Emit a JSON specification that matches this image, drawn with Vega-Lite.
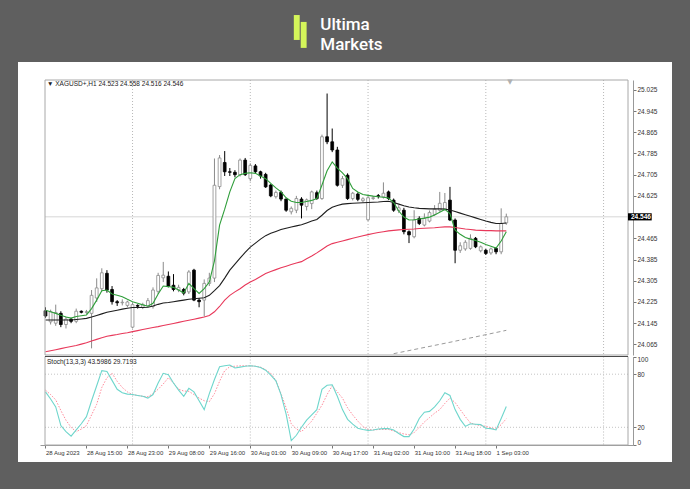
{
"$schema":"https://vega.github.io/schema/vega-lite/v6.json",
"width":654,"height":400,
"autosize":{"type":"none"},
"padding":{"left":18,"top":62,"right":18,"bottom":27},
"background":"#5f5f5f",
"config":{"view":{"stroke":null,"fill":"#ffffff"},"axis":{"title":null,"grid":false,"labelOverlap":false}},
"datasets":{
"one":[{"a":1}],
"seps":[{"i":17},{"i":40},{"i":63},{"i":86},{"i":109}],
"ma200":[{"i":68,"m":24.030},{"i":79,"m":24.073},{"i":90,"m":24.118}],
"candles":[
{"i":0,"o":24.192,"h":24.205,"l":24.165,"c":24.172,"g":24.194,"b":24.157,"r":24.037,"k":60,"d":62},
{"i":1,"o":24.150,"h":24.196,"l":24.140,"c":24.188,"g":24.188,"b":24.157,"r":24.041,"k":52,"d":57},
{"i":2,"o":24.145,"h":24.215,"l":24.135,"c":24.185,"g":24.182,"b":24.157,"r":24.045,"k":43,"d":51},
{"i":3,"o":24.182,"h":24.190,"l":24.130,"c":24.140,"g":24.175,"b":24.157,"r":24.049,"k":22,"d":39},
{"i":4,"o":24.140,"h":24.170,"l":24.125,"c":24.160,"g":24.168,"b":24.157,"r":24.053,"k":15,"d":28},
{"i":5,"o":24.160,"h":24.165,"l":24.145,"c":24.152,"g":24.164,"b":24.157,"r":24.057,"k":10,"d":20},
{"i":6,"o":24.152,"h":24.200,"l":24.145,"c":24.190,"g":24.170,"b":24.159,"r":24.061,"k":17,"d":15},
{"i":7,"o":24.190,"h":24.193,"l":24.182,"c":24.186,"g":24.173,"b":24.161,"r":24.066,"k":24,"d":18},
{"i":8,"o":24.186,"h":24.195,"l":24.180,"c":24.188,"g":24.176,"b":24.163,"r":24.071,"k":32,"d":22},
{"i":9,"o":24.182,"h":24.270,"l":24.050,"c":24.250,"g":24.200,"b":24.168,"r":24.078,"k":50,"d":34},
{"i":10,"o":24.240,"h":24.314,"l":24.225,"c":24.278,"g":24.232,"b":24.174,"r":24.084,"k":67,"d":46},
{"i":11,"o":24.275,"h":24.352,"l":24.265,"c":24.335,"g":24.267,"b":24.180,"r":24.090,"k":84,"d":65},
{"i":12,"o":24.333,"h":24.345,"l":24.260,"c":24.270,"g":24.270,"b":24.186,"r":24.096,"k":83,"d":76},
{"i":13,"o":24.272,"h":24.285,"l":24.215,"c":24.226,"g":24.255,"b":24.190,"r":24.099,"k":73,"d":81},
{"i":14,"o":24.226,"h":24.232,"l":24.210,"c":24.222,"g":24.250,"b":24.194,"r":24.102,"k":63,"d":72},
{"i":15,"o":24.222,"h":24.235,"l":24.212,"c":24.224,"g":24.245,"b":24.198,"r":24.106,"k":59,"d":65},
{"i":16,"o":24.212,"h":24.230,"l":24.205,"c":24.225,"g":24.235,"b":24.201,"r":24.109,"k":57.5,"d":60},
{"i":17,"o":24.130,"h":24.222,"l":24.125,"c":24.215,"g":24.226,"b":24.204,"r":24.113,"k":57,"d":57},
{"i":18,"o":24.212,"h":24.216,"l":24.200,"c":24.209,"g":24.220,"b":24.204,"r":24.117,"k":56,"d":56},
{"i":19,"o":24.205,"h":24.222,"l":24.198,"c":24.215,"g":24.214,"b":24.204,"r":24.121,"k":55,"d":55},
{"i":20,"o":24.210,"h":24.240,"l":24.205,"c":24.230,"g":24.209,"b":24.205,"r":24.125,"k":53,"d":54.6},
{"i":21,"o":24.208,"h":24.280,"l":24.200,"c":24.270,"g":24.220,"b":24.210,"r":24.129,"k":57,"d":58},
{"i":22,"o":24.265,"h":24.335,"l":24.255,"c":24.325,"g":24.255,"b":24.216,"r":24.132,"k":70,"d":63},
{"i":23,"o":24.316,"h":24.376,"l":24.300,"c":24.326,"g":24.285,"b":24.221,"r":24.136,"k":81,"d":69},
{"i":24,"o":24.322,"h":24.340,"l":24.280,"c":24.285,"g":24.283,"b":24.223,"r":24.140,"k":79.5,"d":76},
{"i":25,"o":24.288,"h":24.330,"l":24.265,"c":24.272,"g":24.280,"b":24.226,"r":24.144,"k":70,"d":70},
{"i":26,"o":24.270,"h":24.290,"l":24.262,"c":24.280,"g":24.270,"b":24.229,"r":24.148,"k":62,"d":63},
{"i":27,"o":24.272,"h":24.278,"l":24.250,"c":24.258,"g":24.259,"b":24.232,"r":24.152,"k":55,"d":61},
{"i":28,"o":24.263,"h":24.345,"l":24.255,"c":24.338,"g":24.295,"b":24.235,"r":24.156,"k":64,"d":60.6},
{"i":29,"o":24.345,"h":24.350,"l":24.228,"c":24.232,"g":24.275,"b":24.237,"r":24.160,"k":60,"d":57},
{"i":30,"o":24.232,"h":24.240,"l":24.205,"c":24.226,"g":24.257,"b":24.239,"r":24.164,"k":50,"d":53},
{"i":31,"o":24.232,"h":24.310,"l":24.170,"c":24.295,"g":24.275,"b":24.241,"r":24.168,"k":40,"d":50},
{"i":32,"o":24.295,"h":24.335,"l":24.285,"c":24.315,"g":24.300,"b":24.250,"r":24.174,"k":58,"d":49},
{"i":33,"o":24.315,"h":24.766,"l":24.300,"c":24.665,"g":24.380,"b":24.268,"r":24.188,"k":74,"d":58},
{"i":34,"o":24.660,"h":24.779,"l":24.650,"c":24.768,"g":24.515,"b":24.287,"r":24.208,"k":88.5,"d":72},
{"i":35,"o":24.751,"h":24.794,"l":24.700,"c":24.716,"g":24.575,"b":24.315,"r":24.232,"k":89.5,"d":84},
{"i":36,"o":24.716,"h":24.730,"l":24.700,"c":24.714,"g":24.640,"b":24.345,"r":24.250,"k":90.4,"d":88.5},
{"i":37,"o":24.714,"h":24.722,"l":24.695,"c":24.705,"g":24.690,"b":24.368,"r":24.263,"k":87,"d":89},
{"i":38,"o":24.704,"h":24.766,"l":24.698,"c":24.760,"g":24.705,"b":24.390,"r":24.275,"k":88,"d":89.5},
{"i":39,"o":24.760,"h":24.768,"l":24.700,"c":24.705,"g":24.710,"b":24.412,"r":24.289,"k":89,"d":89.5},
{"i":40,"o":24.690,"h":24.748,"l":24.680,"c":24.740,"g":24.712,"b":24.432,"r":24.300,"k":89.5,"d":89.5},
{"i":41,"o":24.738,"h":24.745,"l":24.710,"c":24.716,"g":24.710,"b":24.447,"r":24.310,"k":89,"d":89},
{"i":42,"o":24.716,"h":24.720,"l":24.690,"c":24.700,"g":24.700,"b":24.462,"r":24.321,"k":87.5,"d":88},
{"i":43,"o":24.706,"h":24.712,"l":24.655,"c":24.659,"g":24.690,"b":24.475,"r":24.332,"k":84.5,"d":85},
{"i":44,"o":24.666,"h":24.670,"l":24.620,"c":24.625,"g":24.672,"b":24.484,"r":24.340,"k":79,"d":81},
{"i":45,"o":24.622,"h":24.645,"l":24.615,"c":24.638,"g":24.655,"b":24.491,"r":24.347,"k":72.5,"d":73},
{"i":46,"o":24.638,"h":24.645,"l":24.605,"c":24.613,"g":24.640,"b":24.498,"r":24.354,"k":57,"d":58},
{"i":47,"o":24.613,"h":24.615,"l":24.565,"c":24.571,"g":24.618,"b":24.503,"r":24.360,"k":35,"d":42},
{"i":48,"o":24.565,"h":24.585,"l":24.555,"c":24.578,"g":24.605,"b":24.508,"r":24.366,"k":5,"d":24},
{"i":49,"o":24.571,"h":24.625,"l":24.560,"c":24.615,"g":24.600,"b":24.512,"r":24.372,"k":11,"d":18},
{"i":50,"o":24.613,"h":24.620,"l":24.540,"c":24.590,"g":24.600,"b":24.516,"r":24.377,"k":20,"d":15},
{"i":51,"o":24.585,"h":24.615,"l":24.570,"c":24.610,"g":24.604,"b":24.523,"r":24.388,"k":28,"d":21},
{"i":52,"o":24.596,"h":24.645,"l":24.575,"c":24.640,"g":24.608,"b":24.530,"r":24.398,"k":34,"d":27},
{"i":53,"o":24.637,"h":24.645,"l":24.610,"c":24.615,"g":24.615,"b":24.536,"r":24.410,"k":40,"d":36},
{"i":54,"o":24.615,"h":24.856,"l":24.610,"c":24.848,"g":24.666,"b":24.552,"r":24.423,"k":63,"d":45},
{"i":55,"o":24.848,"h":25.011,"l":24.820,"c":24.829,"g":24.720,"b":24.570,"r":24.436,"k":67.5,"d":57},
{"i":56,"o":24.829,"h":24.879,"l":24.790,"c":24.798,"g":24.753,"b":24.582,"r":24.445,"k":68,"d":67},
{"i":57,"o":24.798,"h":24.810,"l":24.660,"c":24.665,"g":24.730,"b":24.589,"r":24.450,"k":55,"d":60},
{"i":58,"o":24.665,"h":24.700,"l":24.655,"c":24.690,"g":24.712,"b":24.594,"r":24.455,"k":40,"d":53},
{"i":59,"o":24.703,"h":24.710,"l":24.610,"c":24.615,"g":24.690,"b":24.596,"r":24.460,"k":29,"d":42},
{"i":60,"o":24.615,"h":24.640,"l":24.608,"c":24.635,"g":24.653,"b":24.597,"r":24.465,"k":23.5,"d":34},
{"i":61,"o":24.632,"h":24.638,"l":24.605,"c":24.612,"g":24.640,"b":24.598,"r":24.470,"k":19,"d":27},
{"i":62,"o":24.607,"h":24.620,"l":24.600,"c":24.614,"g":24.630,"b":24.599,"r":24.475,"k":17.5,"d":21},
{"i":63,"o":24.535,"h":24.625,"l":24.530,"c":24.618,"g":24.627,"b":24.600,"r":24.479,"k":16.5,"d":17.5},
{"i":64,"o":24.615,"h":24.625,"l":24.610,"c":24.618,"g":24.624,"b":24.601,"r":24.483,"k":17,"d":17},
{"i":65,"o":24.626,"h":24.632,"l":24.615,"c":24.623,"g":24.622,"b":24.602,"r":24.487,"k":18,"d":17.5},
{"i":66,"o":24.621,"h":24.676,"l":24.615,"c":24.635,"g":24.620,"b":24.604,"r":24.490,"k":18.5,"d":17.5},
{"i":67,"o":24.640,"h":24.645,"l":24.610,"c":24.615,"g":24.617,"b":24.605,"r":24.493,"k":18.5,"d":17.5},
{"i":68,"o":24.609,"h":24.615,"l":24.565,"c":24.571,"g":24.600,"b":24.600,"r":24.495,"k":17,"d":16},
{"i":69,"o":24.570,"h":24.590,"l":24.560,"c":24.580,"g":24.568,"b":24.594,"r":24.497,"k":13,"d":14},
{"i":70,"o":24.571,"h":24.580,"l":24.480,"c":24.490,"g":24.545,"b":24.588,"r":24.498,"k":9.5,"d":12.5},
{"i":71,"o":24.490,"h":24.495,"l":24.447,"c":24.478,"g":24.534,"b":24.583,"r":24.499,"k":9.5,"d":11.5},
{"i":72,"o":24.471,"h":24.571,"l":24.465,"c":24.534,"g":24.535,"b":24.580,"r":24.500,"k":18,"d":14},
{"i":73,"o":24.540,"h":24.548,"l":24.515,"c":24.521,"g":24.538,"b":24.578,"r":24.502,"k":30,"d":20},
{"i":74,"o":24.515,"h":24.559,"l":24.510,"c":24.540,"g":24.541,"b":24.577,"r":24.503,"k":37,"d":26},
{"i":75,"o":24.530,"h":24.570,"l":24.525,"c":24.562,"g":24.545,"b":24.576,"r":24.504,"k":38,"d":31},
{"i":76,"o":24.555,"h":24.590,"l":24.550,"c":24.575,"g":24.553,"b":24.576,"r":24.505,"k":43,"d":36},
{"i":77,"o":24.571,"h":24.640,"l":24.565,"c":24.597,"g":24.563,"b":24.576,"r":24.507,"k":50,"d":40},
{"i":78,"o":24.575,"h":24.636,"l":24.570,"c":24.600,"g":24.574,"b":24.575,"r":24.508,"k":59,"d":47},
{"i":79,"o":24.609,"h":24.659,"l":24.530,"c":24.534,"g":24.558,"b":24.572,"r":24.508,"k":56,"d":53},
{"i":80,"o":24.534,"h":24.540,"l":24.371,"c":24.420,"g":24.496,"b":24.566,"r":24.506,"k":40,"d":48},
{"i":81,"o":24.420,"h":24.450,"l":24.410,"c":24.437,"g":24.480,"b":24.560,"r":24.503,"k":29,"d":40},
{"i":82,"o":24.425,"h":24.458,"l":24.418,"c":24.450,"g":24.468,"b":24.554,"r":24.500,"k":21,"d":32},
{"i":83,"o":24.427,"h":24.480,"l":24.422,"c":24.465,"g":24.462,"b":24.548,"r":24.498,"k":24,"d":25},
{"i":84,"o":24.465,"h":24.470,"l":24.428,"c":24.433,"g":24.457,"b":24.542,"r":24.496,"k":23.5,"d":23},
{"i":85,"o":24.418,"h":24.438,"l":24.412,"c":24.433,"g":24.450,"b":24.536,"r":24.495,"k":23,"d":22},
{"i":86,"o":24.420,"h":24.425,"l":24.402,"c":24.408,"g":24.442,"b":24.530,"r":24.494,"k":19,"d":21},
{"i":87,"o":24.410,"h":24.430,"l":24.403,"c":24.425,"g":24.435,"b":24.525,"r":24.494,"k":18.5,"d":19.5},
{"i":88,"o":24.427,"h":24.432,"l":24.405,"c":24.414,"g":24.428,"b":24.521,"r":24.493,"k":17,"d":18},
{"i":89,"o":24.414,"h":24.578,"l":24.405,"c":24.521,"g":24.455,"b":24.521,"r":24.493,"k":30,"d":23},
{"i":90,"o":24.523,"h":24.558,"l":24.516,"c":24.546,"g":24.490,"b":24.523,"r":24.493,"k":43.6,"d":29.7}
]},
"layer":[
{"layer":[
 {"data":{"name":"seps"},"mark":{"type":"rule","color":"#b8b8b8","strokeDash":[1,2],"strokeWidth":1},
  "encoding":{"x":{"field":"i","type":"quantitative","scale":{"domain":[-0.096,113.77],"range":[22,615],"nice":false,"zero":false}},
   "y":{"datum":25.062,"scale":{"domain":[24.025,25.062],"range":[293,18],"nice":false,"zero":false}},
   "y2":{"datum":24.025}}},
 {"data":{"name":"one"},"mark":{"type":"rule","color":"#d6d6d6","strokeWidth":1},
  "encoding":{"x":{"datum":-0.096},"x2":{"datum":113.77},"y":{"datum":24.546}}},
 {"data":{"name":"ma200"},"mark":{"type":"line","color":"#9a9a9a","strokeDash":[4,3],"strokeWidth":1},
  "encoding":{"x":{"field":"i","type":"quantitative"},"y":{"field":"m","type":"quantitative"}}},
 {"data":{"name":"candles"},"mark":{"type":"rule","strokeWidth":1},
  "encoding":{"x":{"field":"i","type":"quantitative"},"y":{"field":"l","type":"quantitative"},"y2":{"field":"h"},
   "color":{"condition":{"test":"datum.c >= datum.o","value":"#8a8a8a"},"value":"#000000"}}},
 {"data":{"name":"candles"},"mark":{"type":"bar","size":2.8,"strokeWidth":0.8},
  "encoding":{"x":{"field":"i","type":"quantitative"},"y":{"field":"o","type":"quantitative"},"y2":{"field":"c"},
   "fill":{"condition":{"test":"datum.c >= datum.o","value":"#ffffff"},"value":"#000000"},
   "stroke":{"condition":{"test":"datum.c >= datum.o","value":"#8a8a8a"},"value":"#000000"}}},
 {"data":{"name":"candles"},"mark":{"type":"line","color":"#e8385a","strokeWidth":1.1},
  "encoding":{"x":{"field":"i","type":"quantitative"},"y":{"field":"r","type":"quantitative"}}},
 {"data":{"name":"candles"},"mark":{"type":"line","color":"#1e1e1e","strokeWidth":1.1},
  "encoding":{"x":{"field":"i","type":"quantitative"},"y":{"field":"b","type":"quantitative"}}},
 {"data":{"name":"candles"},"mark":{"type":"line","color":"#2f9e3a","strokeWidth":1.1},
  "encoding":{"x":{"field":"i","type":"quantitative"},
   "y":{"field":"g","type":"quantitative",
   "axis":{"title":null,"orient":"right","offset":-39,"values":[24.065,24.145,24.225,24.305,24.385,24.465,24.625,24.705,24.785,24.865,24.945,25.025],"tickCount":30,"format":".3f","tickSize":3,"tickColor":"#777777","domainColor":"#999999","labelAlign":"left","labelPadding":1,"labelFont":"Liberation Sans","labelFontSize":6.5,"labelColor":"#333333","labelOverlap":false,"labelFlush":false}}}},
 {"data":{"name":"one"},"mark":{"type":"rect","fillOpacity":0,"stroke":"#a8a8a8","strokeWidth":1},
  "encoding":{"x":{"datum":-0.096},"x2":{"datum":113.77},"y":{"datum":25.062},"y2":{"datum":24.025}}},
 {"data":{"name":"one"},"mark":{"type":"rect","fill":"#000000"},
  "encoding":{"x":{"datum":113.77},"x2":{"datum":118.4},"y":{"datum":24.5595},"y2":{"datum":24.5325}}},
 {"data":{"name":"one"},"mark":{"type":"text","text":"24.546","align":"left","baseline":"middle","dx":3,"font":"Liberation Sans","fontSize":6.5,"fontWeight":"bold","color":"#ffffff"},
  "encoding":{"x":{"datum":113.77},"y":{"datum":24.546}}},
 {"data":{"name":"one"},"mark":{"type":"text","text":"▼ XAGUSD+,H1  24.523 24.558 24.516 24.546","align":"left","baseline":"middle","dx":2,"font":"Liberation Sans","fontSize":6.5,"color":"#222222"},
  "encoding":{"x":{"datum":-0.096},"y":{"datum":25.046}}},
 {"data":{"name":"one"},"mark":{"type":"text","text":"▼","align":"center","baseline":"top","dy":-2,"font":"DejaVu Sans","fontSize":7,"color":"#b0b0b0"},
  "encoding":{"x":{"datum":90.7},"y":{"datum":25.062}}},
 {"data":{"name":"one"},"mark":{"type":"rect","fill":"#d4f55a"},
  "encoding":{"x":{"datum":48.5},"x2":{"datum":49.65},"y":{"datum":25.307},"y2":{"datum":25.213}}},
 {"data":{"name":"one"},"mark":{"type":"rect","fill":"#d4f55a"},
  "encoding":{"x":{"datum":49.85},"x2":{"datum":51.0},"y":{"datum":25.281},"y2":{"datum":25.183}}},
 {"data":{"name":"one"},"mark":{"type":"text","text":"Ultima","align":"left","baseline":"alphabetic","font":"Roboto","fontSize":17,"fontWeight":500,"color":"#ffffff"},
  "encoding":{"x":{"datum":53.67},"y":{"datum":25.2505}}},
 {"data":{"name":"one"},"mark":{"type":"text","text":"Markets","align":"left","baseline":"alphabetic","font":"Roboto","fontSize":17,"fontWeight":500,"color":"#ffffff"},
  "encoding":{"x":{"datum":53.67},"y":{"datum":25.1751}}}
]},
{"layer":[
 {"data":{"name":"seps"},"mark":{"type":"rule","color":"#b8b8b8","strokeDash":[1,2],"strokeWidth":1},
  "encoding":{"x":{"field":"i","type":"quantitative"},
   "y":{"datum":100,"scale":{"domain":[0,100],"range":[383,294.5],"nice":false,"zero":false}},
   "y2":{"datum":0}}},
 {"data":{"name":"one"},"mark":{"type":"rule","color":"#c4c4c4","strokeDash":[1,2],"strokeWidth":1},
  "encoding":{"x":{"datum":-0.096},"x2":{"datum":113.77},"y":{"datum":80}}},
 {"data":{"name":"one"},"mark":{"type":"rule","color":"#c4c4c4","strokeDash":[1,2],"strokeWidth":1},
  "encoding":{"x":{"datum":-0.096},"x2":{"datum":113.77},"y":{"datum":20}}},
 {"data":{"name":"candles"},"mark":{"type":"line","color":"#ff8a9a","strokeDash":[1.5,1.5],"strokeWidth":1},
  "encoding":{"x":{"field":"i","type":"quantitative"},"y":{"field":"d","type":"quantitative"}}},
 {"data":{"name":"candles"},"mark":{"type":"line","color":"#6fd6cc","strokeWidth":1.1},
  "encoding":{"x":{"field":"i","type":"quantitative",
   "axis":{"title":null,"orient":"bottom","offset":-17,"values":[0,8,16,24,32,40,48,56,64,72,80,88],"tickCount":30,"labelExpr":"datum.value==0?'28 Aug 2023':datum.value==8?'28 Aug 15:00':datum.value==16?'28 Aug 23:00':datum.value==24?'29 Aug 08:00':datum.value==32?'29 Aug 16:00':datum.value==40?'30 Aug 01:00':datum.value==48?'30 Aug 09:00':datum.value==56?'30 Aug 17:00':datum.value==64?'31 Aug 02:00':datum.value==72?'31 Aug 10:00':datum.value==80?'31 Aug 18:00':'1 Sep 03:00'","tickSize":3,"tickColor":"#777777","domainColor":"#999999","labelAlign":"left","labelPadding":1,"labelFont":"Liberation Sans","labelFontSize":6,"labelColor":"#333333","labelOverlap":false,"labelFlush":false,"labelBound":false}},
   "y":{"field":"k","type":"quantitative",
   "axis":{"title":null,"orient":"right","offset":-39,"values":[0,20,80,100],"tickSize":3,"tickColor":"#777777","domainColor":"#999999","labelAlign":"left","labelPadding":1,"labelFont":"Liberation Sans","labelFontSize":6.5,"labelColor":"#333333","labelOverlap":false,"labelFlush":true}}}},
 {"data":{"name":"one"},"mark":{"type":"rect","fillOpacity":0,"stroke":"#a8a8a8","strokeWidth":1},
  "encoding":{"x":{"datum":-0.096},"x2":{"datum":113.77},"y":{"datum":100},"y2":{"datum":0}}},
 {"data":{"name":"one"},"mark":{"type":"rule","color":"#4a4a4a","strokeWidth":1.2},
  "encoding":{"x":{"datum":-0.096},"x2":{"datum":113.77},"y":{"datum":100}}},
 {"data":{"name":"one"},"mark":{"type":"text","text":"Stoch(13,3,3) 43.5986 29.7193","align":"left","baseline":"middle","dx":2,"font":"Liberation Sans","fontSize":6.5,"color":"#222222"},
  "encoding":{"x":{"datum":-0.096},"y":{"datum":93.4}}}
]}
],
"resolve":{"scale":{"y":"independent"},"axis":{"y":"independent"}}
}
